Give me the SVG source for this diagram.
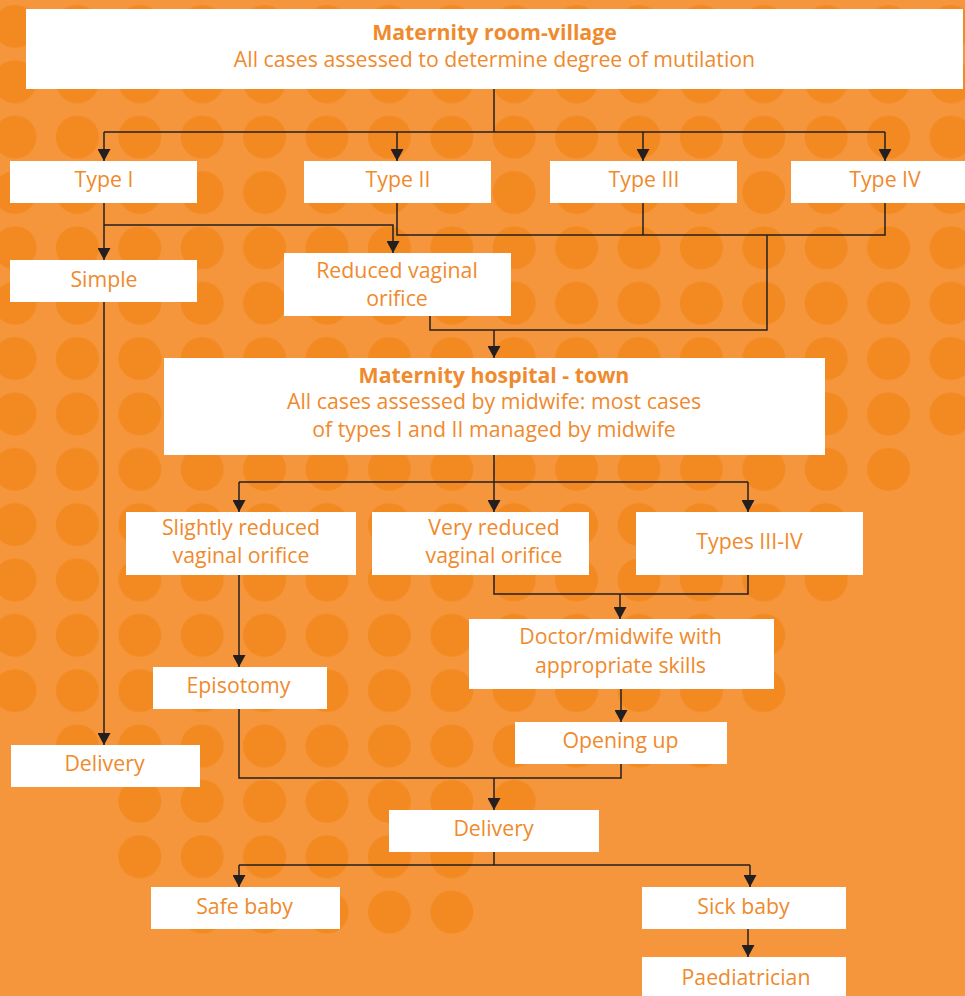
<svg xmlns="http://www.w3.org/2000/svg" width="965" height="996" viewBox="0 0 965 996">
<defs>
<pattern id="dots" patternUnits="userSpaceOnUse" x="-16.2" y="-1.275" width="62.4" height="55.35">
<circle cx="31.2" cy="27.675" r="21.6" fill="#F38A21"/>
</pattern>
<marker id="arr" markerUnits="userSpaceOnUse" viewBox="0 0 12 13" refX="12" refY="6.5" markerWidth="12" markerHeight="13" orient="auto">
<path d="M0,0 L12,6.5 L0,13 z" fill="#231F20"/>
</marker>
</defs>
<style>
.box{fill:#FFFFFF}
.t{font-family:"Open Sans","Liberation Sans",sans-serif;font-size:21.3px;fill:#EF8A2D;text-anchor:middle}
.b{font-weight:bold}
.c{fill:none;stroke:#231F20;stroke-width:1.5}
.a{marker-end:url(#arr)}
</style>
<rect x="0" y="0" width="965" height="996" fill="#F5963D"/>
<g id="dot-pattern" fill="url(#dots)">
<rect x="-16.2" y="-1.275" width="998.4" height="442.8"/>
<rect x="-16.2" y="441.525" width="936" height="55.35"/>
<rect x="-16.2" y="496.875" width="873.6" height="110.7"/>
<rect x="-16.2" y="607.575" width="811.2" height="110.7"/>
<rect x="46.2" y="718.275" width="686.4" height="55.35"/>
<rect x="108.6" y="773.625" width="436.8" height="55.35"/>
<rect x="108.6" y="828.975" width="374.4" height="55.35"/>
<rect x="171" y="884.325" width="312" height="55.35"/>
</g>
<g id="connectors">
<path class="c" d="M494,89 V132 M104,132 H885"/>
<path class="c a" d="M104,132 V161"/>
<path class="c a" d="M397,132 V161"/>
<path class="c a" d="M643,132 V161"/>
<path class="c a" d="M885,132 V161"/>
<path class="c a" d="M104,203 V260"/>
<path class="c a" d="M104,225 H393 V253"/>
<path class="c" d="M397,203 V235 H885 V203 M643,203 V235 M767,235 V330 H430 V316"/>
<path class="c a" d="M494,330 V358"/>
<path class="c a" d="M104,302 V745"/>
<path class="c" d="M494,455 V482 M239,482 H748"/>
<path class="c a" d="M239,482 V512"/>
<path class="c a" d="M494,482 V512"/>
<path class="c a" d="M748,482 V512"/>
<path class="c a" d="M239,575 V667"/>
<path class="c" d="M494,575 V594 H748 V575"/>
<path class="c a" d="M620,594 V619"/>
<path class="c a" d="M621,689 V722"/>
<path class="c" d="M239,709 V778 H621 V764"/>
<path class="c a" d="M494,778 V810"/>
<path class="c" d="M494,852 V865 M239,865 H750"/>
<path class="c a" d="M239,865 V887"/>
<path class="c a" d="M750,865 V887"/>
<path class="c a" d="M748,929 V957"/>
</g>
<g id="n-village"><rect class="box" x="26" y="9" width="937" height="80"/>
<text class="t b" x="494.5" y="40">Maternity room-village</text>
<text class="t" x="494.5" y="67">All cases assessed to determine degree of mutilation</text></g>
<g id="n-type1"><rect class="box" x="10" y="161" width="187" height="42"/><text class="t" x="104" y="187">Type I</text></g>
<g id="n-type2"><rect class="box" x="304" y="161" width="187" height="42"/><text class="t" x="398" y="187">Type II</text></g>
<g id="n-type3"><rect class="box" x="550" y="161" width="187" height="42"/><text class="t" x="644" y="187">Type III</text></g>
<g id="n-type4"><rect class="box" x="791" y="161" width="187" height="42"/><text class="t" x="885" y="187">Type IV</text></g>
<g id="n-simple"><rect class="box" x="10" y="260" width="187" height="42"/><text class="t" x="104" y="287">Simple</text></g>
<g id="n-reduced"><rect class="box" x="284" y="253" width="227" height="63"/>
<text class="t" x="397" y="278">Reduced vaginal</text><text class="t" x="397" y="306">orifice</text></g>
<g id="n-hospital"><rect class="box" x="164" y="358" width="661" height="97"/>
<text class="t b" x="494" y="383">Maternity hospital - town</text>
<text class="t" x="494" y="409">All cases assessed by midwife: most cases</text>
<text class="t" x="494" y="437">of types I and II managed by midwife</text></g>
<g id="n-slightly"><rect class="box" x="126" y="512" width="230" height="63"/>
<text class="t" x="241" y="535">Slightly reduced</text><text class="t" x="241" y="563">vaginal orifice</text></g>
<g id="n-very"><rect class="box" x="372" y="512" width="217" height="63"/>
<text class="t" x="494" y="535">Very reduced</text><text class="t" x="494" y="563">vaginal orifice</text></g>
<g id="n-types34"><rect class="box" x="636" y="512" width="227" height="63"/><text class="t" x="749.5" y="549">Types III-IV</text></g>
<g id="n-episotomy"><rect class="box" x="153" y="667" width="174" height="42"/><text class="t" x="238.5" y="693">Episotomy</text></g>
<g id="n-doctor"><rect class="box" x="469" y="619" width="305" height="70"/>
<text class="t" x="620.5" y="644">Doctor/midwife with</text><text class="t" x="620.5" y="673">appropriate skills</text></g>
<g id="n-opening"><rect class="box" x="515" y="722" width="212" height="42"/><text class="t" x="620.5" y="748">Opening up</text></g>
<g id="n-delivery1"><rect class="box" x="11" y="745" width="189" height="42"/><text class="t" x="104.5" y="771">Delivery</text></g>
<g id="n-delivery2"><rect class="box" x="389" y="810" width="210" height="42"/><text class="t" x="493.5" y="836">Delivery</text></g>
<g id="n-safe"><rect class="box" x="151" y="887" width="189" height="42"/><text class="t" x="244.5" y="914">Safe baby</text></g>
<g id="n-sick"><rect class="box" x="642" y="887" width="204" height="42"/><text class="t" x="743.5" y="914">Sick baby</text></g>
<g id="n-paed"><rect class="box" x="642" y="957" width="204" height="45"/><text class="t" x="746" y="985">Paediatrician</text></g>
</svg>
